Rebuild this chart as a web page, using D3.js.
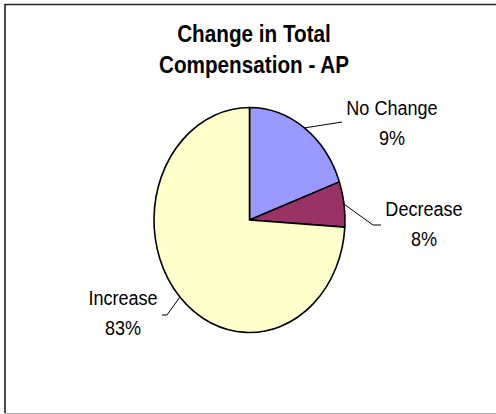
<!DOCTYPE html>
<html>
<head>
<meta charset="utf-8">
<script src="https://cdn.jsdelivr.net/npm/d3@7"></script>
<style>
  body { margin: 0; background: #fff; }
  svg { display: block; }
  .title { font-family: "Liberation Sans", Arial, sans-serif; font-weight: bold; font-size: 23px; fill: #000; }
  .label { font-family: "Liberation Sans", Arial, sans-serif; font-size: 21px; fill: #000; }
</style>
</head>
<body>
<svg id="chart" width="496" height="414"></svg>
<script>
  const categories = ['No Change', 'Decrease', 'Increase'];
  const values = [19.5, 6.5, 74];
  const pctLabels = ['9%', '8%', '83%'];
  const colors = ['#9999ff', '#993366', '#ffffcc'];
  const titleLines = ['Change in Total', 'Compensation - AP'];

  // label anchor points (text centre x, first baseline y) and leader elbow points
  const labelPos = [
    { x: 392, y: 115, leader: [[342, 122]] },
    { x: 424, y: 216, leader: [[373, 225], [381, 225]] },
    { x: 123, y: 305, leader: [[167, 315], [162, 315]] }
  ];

  const svg = d3.select('#chart');
  const cx = 249.5, cy = 220, rx = 95.5, ry = 112.5;
  const squeeze = 0.86;

  // frame
  svg.append('line').attr('x1', 5).attr('y1', 4.5).attr('x2', 496).attr('y2', 4.5)
    .attr('stroke', '#222').attr('stroke-width', 1.5);
  svg.append('line').attr('x1', 5).attr('y1', 4).attr('x2', 5).attr('y2', 413)
    .attr('stroke', '#111').attr('stroke-width', 1.5);
  svg.append('line').attr('x1', 5).attr('y1', 413.5).attr('x2', 496).attr('y2', 413.5)
    .attr('stroke', '#aaa').attr('stroke-width', 1);

  // title
  titleLines.forEach((t, i) => {
    svg.append('g')
      .attr('transform', `translate(254, ${42 + i * 31}) scale(0.9, 1)`)
      .append('text')
      .attr('class', 'title')
      .attr('text-anchor', 'middle')
      .text(t);
  });

  const pie = d3.pie().sort(null).value(d => d);
  const arcs = pie(values);
  const arc = d3.arc().innerRadius(0).outerRadius(1);
  const edge = d3.arc().innerRadius(1).outerRadius(1);

  const pieG = svg.append('g')
    .attr('transform', `translate(${cx}, ${cy}) scale(${rx}, ${ry})`);

  pieG.selectAll('path')
    .data(arcs)
    .enter()
    .append('path')
    .attr('d', arc)
    .attr('fill', (d, i) => colors[i])
    .attr('stroke', '#000')
    .attr('stroke-width', 1.6)
    .attr('stroke-linejoin', 'round')
    .attr('vector-effect', 'non-scaling-stroke');

  // leaders
  arcs.forEach((a, i) => {
    const c = edge.centroid(a);
    const pts = [[cx + c[0] * rx, cy + c[1] * ry]].concat(labelPos[i].leader);
    svg.append('path')
      .attr('d', d3.line()(pts))
      .attr('fill', 'none')
      .attr('stroke', '#000')
      .attr('stroke-width', 1);
  });

  // labels
  categories.forEach((name, i) => {
    const p = labelPos[i];
    [name, pctLabels[i]].forEach((t, j) => {
      svg.append('g')
        .attr('transform', `translate(${p.x}, ${p.y + j * 30}) scale(${squeeze}, 1)`)
        .append('text')
        .attr('class', 'label')
        .attr('text-anchor', 'middle')
        .text(t);
    });
  });
</script>
</body>
</html>
